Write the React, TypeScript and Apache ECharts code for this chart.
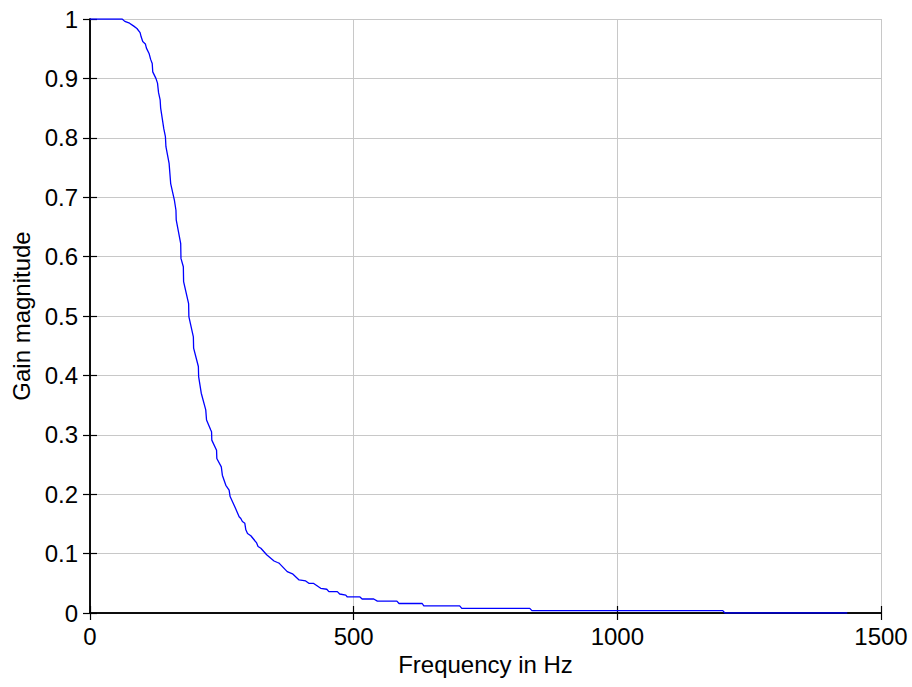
import React, { useEffect, useRef } from "react";
import * as echarts from "echarts";

// Magnitude response of the low-pass filter (gain quantised in small steps)
const freqHz = [
  0, 61, 66, 75, 83, 89, 95, 97, 100, 105, 107, 112, 115, 118, 119, 125, 128, 130,
  133, 134, 140, 143, 144, 150, 153, 160, 163, 163.5, 172, 172.5, 177, 177.5, 187,
  187.5, 196, 196.5, 205.5, 206, 211, 219.5, 221, 229, 230.5, 231, 240, 240.5, 249,
  251, 257.6, 263.8, 265.7, 274.6, 282.8, 286, 289, 293.6, 295.5, 298.7, 305, 316,
  318.7, 324, 335, 349, 355.5, 358.5, 374, 384, 396.5, 409, 415, 423.5, 437.5, 449,
  453, 469, 473.5, 485, 488, 512, 516, 538, 545, 582, 586, 630, 633, 701, 705, 834,
  838, 1200, 1204, 1436,
];
const gain = [
  1.0, 1.0, 0.996, 0.993, 0.988, 0.984, 0.977, 0.97, 0.962, 0.958, 0.951, 0.942,
  0.932, 0.925, 0.911, 0.9, 0.892, 0.876, 0.864, 0.85, 0.815, 0.802, 0.785, 0.757,
  0.723, 0.695, 0.678, 0.662, 0.622, 0.597, 0.583, 0.558, 0.521, 0.499, 0.465,
  0.446, 0.415, 0.398, 0.37, 0.342, 0.325, 0.308, 0.305, 0.291, 0.274, 0.26, 0.246,
  0.232, 0.215, 0.207, 0.196, 0.179, 0.162, 0.159, 0.154, 0.151, 0.14, 0.134, 0.13,
  0.118, 0.112, 0.109, 0.098, 0.0875, 0.085, 0.084, 0.0696, 0.066, 0.0556, 0.054,
  0.05, 0.05, 0.0416, 0.04, 0.036, 0.036, 0.032, 0.03, 0.027, 0.027, 0.0236, 0.0236,
  0.02, 0.02, 0.016, 0.016, 0.012, 0.012, 0.0078, 0.0078, 0.0039, 0.0039, 0.0, 0.0,
];

const xTicks = { min: 0, max: 1500, interval: 500 };
const yTicks = { min: 0, max: 1, interval: 0.1 };
const xTitle = "Frequency in Hz";
const yTitle = "Gain magnitude";

const FONT = "'Liberation Sans', Arial, Helvetica, sans-serif";
const FS = 24;

export default function App() {
  const ref = useRef<HTMLDivElement>(null);

  useEffect(() => {
    if (!ref.current) return;
    const chart = echarts.init(ref.current, undefined, { renderer: "svg" });
    const points = freqHz.map((f, i) => [f, gain[i]]);

    const boxLine = { show: true, lineStyle: { color: "#000", width: 1.5 } };
    const tickIn = { show: true, inside: true, length: 7, lineStyle: { color: "#000", width: 1.2 } };
    const label = { color: "#000", fontFamily: FONT, fontSize: FS };

    chart.setOption({
      animation: false,
      backgroundColor: "#fff",
      grid: { left: 90, right: 31, top: 19, bottom: 74, containLabel: false },
      xAxis: [
        {
          type: "value",
          position: "bottom",
          ...xTicks,
          name: xTitle,
          nameLocation: "middle",
          nameGap: 39,
          nameTextStyle: { color: "#000", fontFamily: FONT, fontSize: FS },
          axisLine: boxLine,
          axisTick: tickIn,
          axisLabel: { ...label, margin: 11, formatter: (v: number) => String(v) },
          splitLine: { show: true, lineStyle: { color: "#c8c8c8", width: 1 } },
        },
        {
          type: "value",
          position: "top",
          ...xTicks,
          axisLine: boxLine,
          axisTick: tickIn,
          axisLabel: { show: false },
          splitLine: { show: false },
        },
      ],
      yAxis: [
        {
          type: "value",
          position: "left",
          ...yTicks,
          name: yTitle,
          nameLocation: "middle",
          nameGap: 57,
          nameTextStyle: { color: "#000", fontFamily: FONT, fontSize: FS },
          axisLine: boxLine,
          axisTick: tickIn,
          axisLabel: {
            ...label,
            margin: 12,
            formatter: (v: number) => String(+v.toFixed(1)),
          },
          splitLine: { show: true, lineStyle: { color: "#c8c8c8", width: 1 } },
        },
        {
          type: "value",
          position: "right",
          ...yTicks,
          axisLine: boxLine,
          axisTick: tickIn,
          axisLabel: { show: false },
          splitLine: { show: false },
        },
      ],
      series: [
        {
          type: "line",
          data: points,
          xAxisIndex: 0,
          yAxisIndex: 0,
          showSymbol: false,
          symbol: "none",
          lineStyle: { color: "#0000ff", width: 1.3 },
          z: 5,
        },
      ],
    });

    return () => chart.dispose();
  }, []);

  return <div ref={ref} style={{ width: 912, height: 687, position: "absolute", left: 0, top: 0 }} />;
}
